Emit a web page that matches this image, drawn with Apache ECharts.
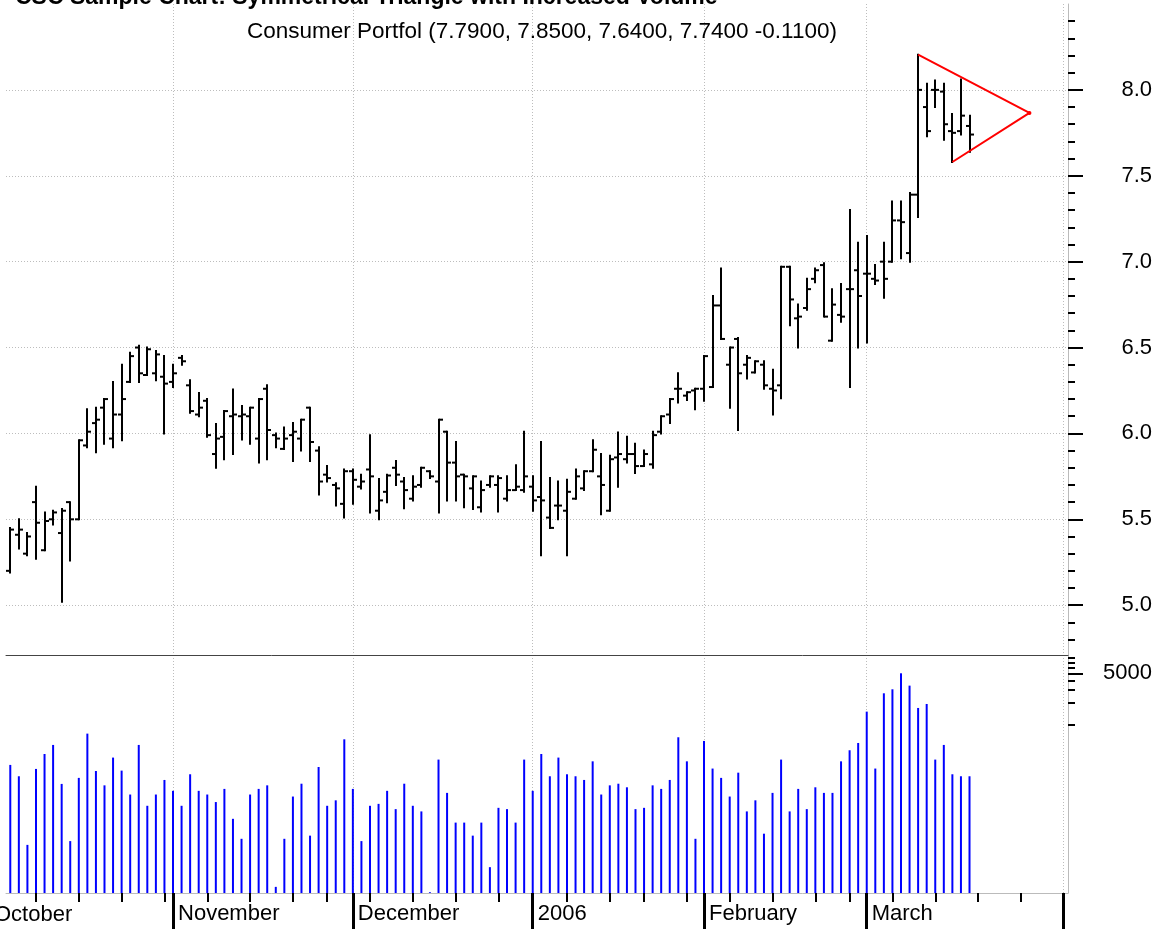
<!DOCTYPE html>
<html>
<head>
<meta charset="utf-8">
<script src="https://cdn.jsdelivr.net/npm/echarts@6/dist/echarts.min.js"></script>
<style>
  html, body { margin: 0; background: #fff; }
  #chart { width: 1166px; height: 931px; }
</style>
</head>
<body>
<div id="chart"></div>
<script>
// trading calendar (US market holidays skipped)
const holidays = ['2005-11-24', '2005-12-26', '2006-01-02', '2006-01-16', '2006-02-20'];
const firstDay = '2005-10-05';
const lastDay = '2006-04-03';
const monthNames = ['2006', 'February', 'March', '', '', '', '', '', '', 'October', 'November', 'December'];

// daily OHLC, Oct 5 2005 .. Mar 17 2006
const opens = [
  5.20, 5.41, 5.30, 5.60, 5.32, 5.50, 5.42, 5.60, 5.50, 5.93, 6.06, 6.15, 5.97, 6.11, 6.30, 6.50, 6.34, 6.35, 6.33,
  6.30, 6.44, 6.28, 6.11, 6.19, 5.88, 5.98, 6.10, 6.10, 6.10, 5.97, 6.26, 5.99, 5.91, 5.99, 5.97, 6.15, 5.90, 5.76, 5.70, 5.59,
  5.78, 5.69, 5.79, 5.55, 5.66, 5.80, 5.72, 5.62, 5.70, 5.78, 5.72, 6.01, 5.83, 5.76, 5.68, 5.57, 5.70, 5.70, 5.62, 5.67, 5.67,
  5.69, 5.63, 5.51, 5.58, 5.55, 5.62, 5.68, 5.78, 5.75, 5.55, 5.86, 5.85, 5.88, 5.81, 5.82, 6.01, 6.11, 6.26, 6.22, 6.25,
  6.26, 6.27, 6.745, 6.40, 6.55, 6.40, 6.355, 6.40, 6.26, 6.28, 6.97, 6.67, 6.73, 6.90, 6.98, 6.54, 6.69, 6.84, 6.95,
  6.93, 6.90, 7.00, 7.00, 7.24, 7.05, 7.39, 7.90, 8.00, 7.99, 7.76, 7.76, 7.79
];
const highs = [
  5.45, 5.50, 5.42, 5.69, 5.54, 5.55, 5.56, 5.60, 5.96, 6.14, 6.15, 6.20, 6.30, 6.40, 6.47, 6.51, 6.50, 6.48, 6.45,
  6.40, 6.45, 6.31, 6.235, 6.20, 6.055, 6.13, 6.255, 6.16, 6.15, 6.20, 6.28, 6.00, 6.035, 6.06, 6.08, 6.15, 5.92, 5.81, 5.71, 5.79,
  5.79, 5.76, 5.99, 5.735, 5.76, 5.84, 5.74, 5.75, 5.80, 5.78, 6.08, 6.01, 5.95, 5.76, 5.75, 5.72, 5.75, 5.75, 5.75, 5.815, 6.01,
  5.75, 5.95, 5.74, 5.72, 5.73, 5.79, 5.78, 5.96, 5.88, 5.87, 6.005, 5.98, 5.94, 5.90, 6.01, 6.10, 6.20, 6.35, 6.24, 6.26,
  6.45, 6.80, 6.96, 6.50, 6.555, 6.45, 6.42, 6.42, 6.37, 6.97, 6.97, 6.75, 6.90, 6.96, 6.99, 6.84, 6.87, 7.30, 7.11,
  7.15, 6.98, 7.11, 7.35, 7.35, 7.40, 8.205, 8.035, 8.055, 8.035, 7.86, 8.06, 7.85
];
const lows = [
  5.19, 5.33, 5.29, 5.27, 5.32, 5.47, 5.02, 5.26, 5.50, 5.92, 5.89, 5.94, 5.92, 5.96, 6.30, 6.30, 6.34, 6.31, 6.00,
  6.27, 6.40, 6.12, 6.10, 5.98, 5.80, 5.85, 5.88, 5.965, 5.94, 5.83, 5.85, 5.92, 5.91, 5.84, 5.90, 5.84, 5.645, 5.72, 5.58, 5.51,
  5.59, 5.68, 5.54, 5.50, 5.60, 5.70, 5.565, 5.61, 5.69, 5.74, 5.54, 5.61, 5.61, 5.57, 5.56, 5.545, 5.69, 5.545, 5.61, 5.67, 5.66,
  5.55, 5.29, 5.45, 5.50, 5.29, 5.62, 5.67, 5.78, 5.53, 5.55, 5.69, 5.83, 5.77, 5.81, 5.80, 6.00, 6.06, 6.18, 6.195, 6.14,
  6.19, 6.27, 6.55, 6.15, 6.02, 6.32, 6.355, 6.26, 6.11, 6.205, 6.63, 6.50, 6.72, 6.88, 6.68, 6.54, 6.65, 6.27, 6.50,
  6.53, 6.87, 6.79, 7.00, 7.02, 7.00, 7.26, 7.73, 7.90, 7.71, 7.58, 7.74, 7.64
];
const closes = [
  5.44, 5.44, 5.40, 5.48, 5.49, 5.54, 5.55, 5.50, 5.96, 6.01, 6.08, 6.20, 6.11, 6.20, 6.45, 6.35, 6.49, 6.46, 6.29,
  6.35, 6.42, 6.13, 6.15, 5.99, 5.97, 6.13, 6.11, 6.11, 6.15, 6.20, 6.02, 5.97, 5.97, 6.01, 6.08, 5.95, 5.72, 5.74, 5.68, 5.78,
  5.73, 5.72, 5.75, 5.61, 5.755, 5.76, 5.67, 5.69, 5.80, 5.75, 6.08, 5.83, 5.75, 5.75, 5.75, 5.67, 5.75, 5.74, 5.67, 5.69, 5.75,
  5.61, 5.61, 5.45, 5.58, 5.66, 5.75, 5.78, 5.905, 5.70, 5.85, 5.88, 5.88, 5.81, 5.88, 5.99, 6.10, 6.20, 6.26, 6.24, 6.26,
  6.45, 6.745, 6.55, 6.50, 6.35, 6.44, 6.42, 6.28, 6.25, 6.97, 6.78, 6.68, 6.84, 6.95, 6.68, 6.75, 6.68, 6.84, 6.80,
  6.93, 6.89, 6.90, 7.24, 7.23, 7.39, 8.00, 7.76, 8.00, 7.80, 7.75, 7.85, 7.74
];
const volumes = [
  289, 203, 24, 255, 406, 538, 160, 27, 193, 765, 239, 153, 363, 242, 115, 538, 81, 115, 181,
  129, 81, 216, 129, 115, 91, 137, 54, 29, 115, 137, 153, 6.5, 29, 108, 161, 32, 271, 81, 96, 641,
  137, 27, 81, 86, 129, 73, 161, 81, 68, 5.5, 341, 121, 48, 48, 32, 48, 12, 76, 73, 48, 341,
  129, 406, 203, 363, 216, 203, 181, 323, 115, 153, 161, 144, 73, 76, 153, 137, 181, 683, 323, 29,
  609, 258, 193, 108, 227, 68, 96, 34, 121, 341, 68, 137, 73, 144, 121, 121, 323, 456, 572,
  1517, 258, 2683, 3039, 5000, 3406, 1700, 1925, 341, 538, 216, 203, 203
];

// symmetric triangle: [day index, price]
const triangle = [[106, 8.205], [119, 7.866], [110, 7.58]];

const priceMajorTicks = [5.0, 5.5, 6.0, 6.5, 7.0, 7.5, 8.0];
const priceMinorTicks = [4.8, 4.9, 5.1, 5.2, 5.3, 5.4, 5.6, 5.7, 5.8, 5.9, 6.1, 6.2, 6.3, 6.4,
  6.6, 6.7, 6.8, 6.9, 7.1, 7.2, 7.3, 7.4, 7.6, 7.7, 7.8, 7.9, 8.1, 8.2, 8.3, 8.4];
const volumeMajorTicks = [5000];
const volumeMinorTicks = [1000, 2000, 3000, 4000, 6000, 7000, 8000];

function tradingDays(from, to) {
  const out = [];
  const d = new Date(from + 'T00:00:00Z');
  const end = new Date(to + 'T00:00:00Z');
  while (d <= end) {
    const wd = d.getUTCDay();
    const s = d.toISOString().slice(0, 10);
    if (wd !== 0 && wd !== 6 && holidays.indexOf(s) < 0) out.push(s);
    d.setUTCDate(d.getUTCDate() + 1);
  }
  return out;
}

const dates = tradingDays(firstDay, lastDay);
const monthOf = s => +s.slice(5, 7);
const dayOf = s => new Date(s + 'T00:00:00Z').getUTCDay();
const isMonthStart = dates.map((s, i) => i > 0 && monthOf(s) !== monthOf(dates[i - 1]));
const isWeekStart = dates.map((s, i) => i > 0 && dayOf(s) < dayOf(dates[i - 1]));

const ohlc = opens.map((o, i) => [i, o, highs[i], lows[i], closes[i]]);

const font = 'Liberation Sans, Arial, sans-serif';
const dotted = { color: '#bdbdbd', width: 1, type: [1, 2] };

function renderOhlc(params, api) {
  const i = api.value(0);
  const pO = api.coord([i, api.value(1)]);
  const pH = api.coord([i, api.value(2)]);
  const pL = api.coord([i, api.value(3)]);
  const pC = api.coord([i, api.value(4)]);
  const x = Math.round(pH[0]);
  const style = { stroke: '#000', lineWidth: 2 };
  return {
    type: 'group',
    children: [
      { type: 'line', shape: { x1: x, y1: pH[1] - 1, x2: x, y2: pL[1] + 1 }, style: style },
      { type: 'line', shape: { x1: x - 4, y1: pO[1], x2: x, y2: pO[1] }, style: style },
      { type: 'line', shape: { x1: x, y1: pC[1], x2: x + 4, y2: pC[1] }, style: style }
    ]
  };
}

const chart = echarts.init(document.getElementById('chart'));
chart.setOption({
  animation: false,
  backgroundColor: '#fff',
  title: [
    {
      text: 'CSC Sample Chart: Symmetrical Triangle with Increased Volume',
      left: 10,
      top: -19,
      textStyle: { fontFamily: font, fontSize: 23, fontWeight: 'bold', color: '#000' }
    },
    {
      text: 'Consumer Portfol (7.7900, 7.8500, 7.6400, 7.7400 -0.1100)',
      left: 537,
      textAlign: 'center',
      top: 15,
      textStyle: { fontFamily: font, fontSize: 22.5, fontWeight: 'normal', color: '#000' }
    }
  ],
  graphic: [
    {
      type: 'text', x: -6, y: 904,
      style: { text: 'October', font: '22px ' + font, fill: '#000' }
    }
  ],
  grid: [
    { left: 6, right: 98, top: 4, height: 651 },
    { left: 6, right: 98, top: 655, height: 238 }
  ],
  xAxis: [
    {
      gridIndex: 0, type: 'category', data: dates, boundaryGap: true, position: 'bottom',
      axisLine: { show: true, lineStyle: { color: '#444', width: 1 } },
      axisTick: { show: false }, axisLabel: { show: false },
      splitLine: { show: true, alignWithLabel: true, interval: i => isMonthStart[i], lineStyle: dotted }
    },
    {
      gridIndex: 1, type: 'category', data: dates, boundaryGap: true, position: 'bottom', offset: 0,
      axisLine: { show: true, lineStyle: { color: '#bbb', width: 1 } },
      axisTick: { show: true, alignWithLabel: true, interval: i => isWeekStart[i] && !isMonthStart[i], length: 9, lineStyle: { color: '#000', width: 2 } },
      axisLabel: { show: false },
      splitLine: { show: true, alignWithLabel: true, interval: i => isMonthStart[i], lineStyle: dotted }
    },
    {
      gridIndex: 1, type: 'category', data: dates, boundaryGap: true, position: 'bottom', offset: 0,
      axisLine: { show: false },
      axisTick: { show: true, alignWithLabel: true, interval: i => isMonthStart[i], length: 36, lineStyle: { color: '#000', width: 3 } },
      axisLabel: {
        show: true, interval: i => isMonthStart[i], align: 'left', margin: 10, padding: [0, 0, 0, 5],
        fontFamily: font, fontSize: 22, color: '#000',
        formatter: v => monthNames[monthOf(v) - 1]
      },
      splitLine: { show: false }
    }
  ],
  yAxis: [
    {
      gridIndex: 0, type: 'value', position: 'right', min: 4.71, max: 8.5,
      axisLine: { show: true, lineStyle: { color: '#bbb', width: 1 } },
      axisTick: { show: true, customValues: priceMajorTicks, length: 15, lineStyle: { color: '#000', width: 2 } },
      axisLabel: {
        show: true, customValues: priceMajorTicks, margin: 84, align: 'right',
        fontFamily: font, fontSize: 22, color: '#000', formatter: v => v.toFixed(1)
      },
      splitLine: { show: true, lineStyle: dotted }
    },
    {
      gridIndex: 0, type: 'value', position: 'right', min: 4.71, max: 8.5,
      axisLine: { show: false },
      axisTick: { show: true, customValues: priceMinorTicks, length: 7, lineStyle: { color: '#000', width: 2 } },
      axisLabel: { show: false },
      splitLine: { show: false }
    },
    {
      gridIndex: 1, type: 'log', logBase: 10, position: 'right', min: 5.37, max: 8833,
      axisLine: { show: true, lineStyle: { color: '#bbb', width: 1 } },
      axisTick: { show: true, customValues: volumeMajorTicks, length: 15, lineStyle: { color: '#000', width: 2 } },
      axisLabel: {
        show: true, customValues: volumeMajorTicks, margin: 84, align: 'right',
        fontFamily: font, fontSize: 22, color: '#000', formatter: v => String(Math.round(v))
      },
      splitLine: { show: false }
    },
    {
      gridIndex: 1, type: 'log', logBase: 10, position: 'right', min: 5.37, max: 8833,
      axisLine: { show: false },
      axisTick: { show: true, customValues: volumeMinorTicks, length: 7, lineStyle: { color: '#000', width: 2 } },
      axisLabel: { show: false },
      splitLine: { show: false }
    }
  ],
  series: [
    {
      name: 'Consumer Portfol', type: 'custom', xAxisIndex: 0, yAxisIndex: 0,
      renderItem: renderOhlc, data: ohlc,
      encode: { x: 0, y: [1, 2, 3, 4] }
    },
    {
      name: 'Triangle', type: 'line', xAxisIndex: 0, yAxisIndex: 0,
      data: triangle.map((p, k) => ({ value: p, symbol: k === 1 ? 'circle' : 'none', symbolSize: 4 })),
      lineStyle: { color: '#ff0000', width: 2 }, itemStyle: { color: '#ff0000' },
      showSymbol: true, z: 5
    },
    {
      name: 'Volume', type: 'bar', xAxisIndex: 1, yAxisIndex: 2,
      data: volumes, barWidth: 2, itemStyle: { color: '#0000ff' }
    }
  ]
});
</script>
</body>
</html>
